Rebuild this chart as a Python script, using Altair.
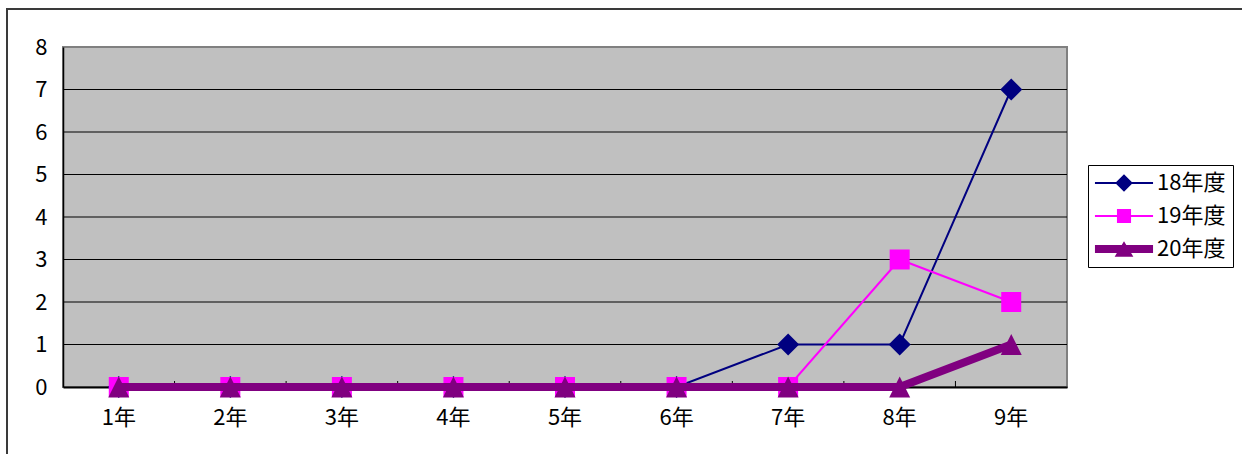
import altair as alt
import pandas as pd

categories = ["1年", "2年", "3年", "4年", "5年", "6年", "7年", "8年", "9年"]
series_names = ["18年度", "19年度", "20年度"]
v18 = [0, 0, 0, 0, 0, 0, 1, 1, 7]
v19 = [0, 0, 0, 0, 0, 0, 0, 3, 2]
v20 = [0, 0, 0, 0, 0, 0, 0, 0, 1]
y_ticks = [0, 1, 2, 3, 4, 5, 6, 7, 8]
grid_values = [1, 2, 3, 4, 5, 6, 7]
boundary_cats = categories[1:]

colors = ["#000080", "#FF00FF", "#800080"]
line_widths = [2, 2, 8]
tri_path = "M0,-1L1,1L-1,1Z"
marker_shapes = ["diamond", "square", tri_path]
marker_sizes = [484, 400, 441]
legend_paths = [
    "M-2.64,-0.1L2.64,-0.1L2.64,0.1L-2.64,0.1Z M0,-0.8L0.8,0L0,0.8L-0.8,0Z",
    "M-2.64,-0.1L2.64,-0.1L2.64,0.1L-2.64,0.1Z M-0.64,-0.64L0.64,-0.64L0.64,0.64L-0.64,0.64Z",
    "M-2.64,-0.36L2.64,-0.36L2.64,0.36L-2.64,0.36Z M0,-0.7L0.85,0.7L-0.85,0.7Z",
]

rows = []
for name, vals in zip(series_names, [v18, v19, v20]):
    for c, v in zip(categories, vals):
        rows.append({"cat": c, "value": v, "series": name})
df = pd.DataFrame(rows)

FONT = "Noto Sans CJK JP"
W, H = 1004, 340

xscale = alt.Scale(type="band", domain=categories, paddingInner=0, paddingOuter=0)
yscale = alt.Scale(domain=[0, 8], nice=False)


def xenc(field="cat", **kw):
    return alt.X(f"{field}:N", scale=xscale, sort=categories, title=None,
                 axis=alt.Axis(ticks=False, grid=False, domainColor="#000000", domainWidth=2,
                               labelFontSize=22, labelFont=FONT, labelColor="#000000",
                               labelPadding=20, labelAngle=0, zindex=0), **kw)


def yenc(field="value"):
    return alt.Y(f"{field}:Q", scale=yscale, title=None,
                 axis=alt.Axis(values=y_ticks, ticks=False, grid=False, domainColor="#000000",
                               domainWidth=1.5, labelFontSize=22, labelFont=FONT,
                               labelColor="#000000", labelPadding=16, zindex=0))


frame = alt.Chart(pd.DataFrame({"k": [0]})).mark_rect(
    fillOpacity=0, stroke="#3a3a3a", strokeWidth=2
).encode(x=alt.value(-56), x2=alt.value(1300), y=alt.value(-38), y2=alt.value(500))

grid = alt.Chart(pd.DataFrame({"g": grid_values})).mark_rule(
    color="#000000", strokeWidth=1
).encode(y=yenc("g"))

ticks = alt.Chart(pd.DataFrame({"cat": boundary_cats})).mark_rule(
    color="#000000", strokeWidth=1
).encode(x=xenc("cat", bandPosition=0), y=alt.value(H), y2=alt.value(H - 6))

series_layers = []
for name, col, lw, shp, sz in zip(series_names, colors, line_widths, marker_shapes, marker_sizes):
    sub = df[df["series"] == name]
    ln = alt.Chart(sub).mark_line(color=col, strokeWidth=lw).encode(x=xenc(), y=yenc())
    pt = alt.Chart(sub).mark_point(filled=True, opacity=1, color=col, shape=shp, size=sz).encode(
        x=xenc(), y=yenc()
    )
    series_layers.append(ln)
    series_layers.append(pt)

leg = alt.Legend(
    title=None, orient="none", legendX=1025, legendY=118,
    strokeColor="#000000", fillColor="#FFFFFF", padding=7,
    labelFontSize=22, labelFont=FONT, labelColor="#000000",
    rowPadding=11, symbolSize=484, symbolOffset=18, labelOffset=22,
    symbolStrokeWidth=0, symbolOpacity=1,
)

legend_layer = alt.Chart(df).mark_point(filled=True).transform_filter("false").encode(
    x=xenc(),
    y=yenc(),
    color=alt.Color("series:N", scale=alt.Scale(domain=series_names, range=colors), legend=leg),
    shape=alt.Shape("series:N", scale=alt.Scale(domain=series_names, range=legend_paths), legend=leg),
)

chart = alt.layer(frame, grid, ticks, *series_layers, legend_layer).properties(
    width=W, height=H,
    autosize=alt.AutoSizeParams(type="none"),
    padding={"left": 63, "top": 47, "right": 175, "bottom": 67},
    background="#FFFFFF",
).configure_view(
    fill="#C0C0C0", stroke="#808080", strokeWidth=2
)

chart.save("out.html", embed_options={"renderer": "svg", "actions": False})
